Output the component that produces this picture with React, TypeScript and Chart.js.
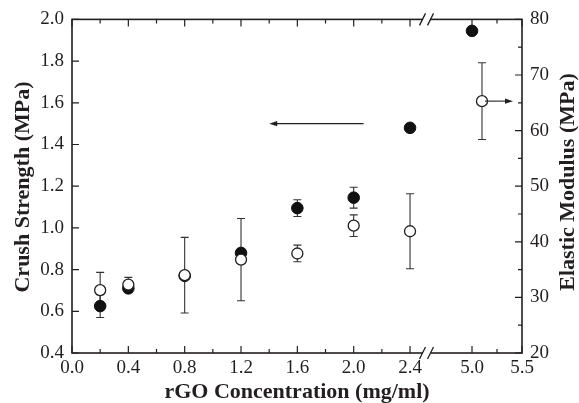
import React, { useEffect, useRef } from 'react';
import { Chart, registerables } from 'chart.js';

Chart.register(...registerables);

// ---- data ----
const crushX = [0.2, 0.4, 0.8, 1.2, 1.6, 2.0, 2.4, 5.0];
const crushStrength = [0.625, 0.71, 0.77, 0.88, 1.095, 1.145, 1.48, 1.945];
const crushErr = [0.055, 0.02, 0.0, 0.0, 0.04, 0.05, 0, 0];

const modulusX = [0.2, 0.4, 0.8, 1.2, 1.6, 2.0, 2.4, 5.1];
const elasticModulus = [31.3, 32.3, 34.0, 36.8, 37.9, 42.9, 41.9, 65.3];
const modulusErr = [3.2, 1.3, 6.8, 7.4, 1.5, 1.95, 6.75, 6.9];

const xTickValues = [0, 0.4, 0.8, 1.2, 1.6, 2.0, 2.4, 5.0, 5.5];
const xTickLabels = ['0.0', '0.4', '0.8', '1.2', '1.6', '2.0', '2.4', '5.0', '5.5'];
const xMinorTicks = [0.2, 0.6, 1.0, 1.4, 1.8, 2.2, 5.25];
const modulusMinorTicks = [25, 35, 45, 55, 65, 75];

// arrows pointing at each series' axis (data coordinates)
const crushArrow = { from: [2.07, 1.5], to: [1.4, 1.5] };
const modulusArrow = { from: [5.13, 65.3], to: [5.41, 65.3] };

// ---- broken x axis mapping ----
const BREAK_LO = 2.4;
const BREAK_HI = 5.0;
const HI_START = 2.84;
const HI_SCALE = 0.71;
const BREAK_POS = 2.517;
const toPos = (x: number) => (x <= BREAK_LO ? x : HI_START + (x - BREAK_HI) * HI_SCALE);

const INK = '#231f20';
const SERIF = '"Liberation Serif", "Times New Roman", serif';

const decorPlugin = {
  id: 'decor',
  beforeDatasetsDraw(chart: any) {
    const { ctx, chartArea: a, scales } = chart;
    const xs = scales.x, ys = scales.y, y1 = scales.y1;
    ctx.save();
    // error bars
    chart.data.datasets.forEach((ds: any, di: number) => {
      const meta = chart.getDatasetMeta(di);
      const sc = scales[ds.yAxisID];
      ds.errors.forEach((e: number, i: number) => {
        if (!e) return;
        const pt = meta.data[i];
        const v = ds.data[i].y;
        const yt = sc.getPixelForValue(v + e);
        const yb = sc.getPixelForValue(v - e);
        ctx.strokeStyle = '#333';
        ctx.lineWidth = 1.1;
        ctx.beginPath();
        ctx.moveTo(pt.x, yt); ctx.lineTo(pt.x, yb);
        ctx.moveTo(pt.x - 4, yt); ctx.lineTo(pt.x + 4, yt);
        ctx.moveTo(pt.x - 4, yb); ctx.lineTo(pt.x + 4, yb);
        ctx.stroke();
      });
    });
    // frame
    ctx.strokeStyle = INK;
    ctx.lineWidth = 1.6;
    ctx.strokeRect(a.left, a.top, a.right - a.left, a.bottom - a.top);
    ctx.lineWidth = 1.2;
    ctx.beginPath();
    // x ticks (bottom and top, inward)
    xTickValues.forEach((v) => {
      const px = xs.getPixelForValue(toPos(v));
      ctx.moveTo(px, a.bottom); ctx.lineTo(px, a.bottom - 7);
      ctx.moveTo(px, a.top); ctx.lineTo(px, a.top + 7);
    });
    xMinorTicks.forEach((v) => {
      const px = xs.getPixelForValue(toPos(v));
      ctx.moveTo(px, a.bottom); ctx.lineTo(px, a.bottom - 4);
      ctx.moveTo(px, a.top); ctx.lineTo(px, a.top + 4);
    });
    ys.ticks.forEach((t: any) => {
      const py = ys.getPixelForValue(t.value);
      ctx.moveTo(a.left, py); ctx.lineTo(a.left + 7, py);
    });
    y1.ticks.forEach((t: any) => {
      const py = y1.getPixelForValue(t.value);
      ctx.moveTo(a.right, py); ctx.lineTo(a.right - 7, py);
    });
    modulusMinorTicks.forEach((v) => {
      const py = y1.getPixelForValue(v);
      ctx.moveTo(a.right, py); ctx.lineTo(a.right - 4, py);
    });
    ctx.stroke();
    // axis break marks
    const bx = xs.getPixelForValue(BREAK_POS);
    [a.top, a.bottom].forEach((yy: number) => {
      ctx.fillStyle = '#fff';
      ctx.fillRect(bx - 4, yy - 2, 8, 4);
      ctx.strokeStyle = INK;
      ctx.lineWidth = 1.3;
      ctx.beginPath();
      [-4, 4].forEach((d) => {
        ctx.moveTo(bx + d - 3, yy + 6);
        ctx.lineTo(bx + d + 3, yy - 6);
      });
      ctx.stroke();
    });
    ctx.restore();
  },
  afterDraw(chart: any) {
    const { ctx, chartArea: a, scales } = chart;
    const xs = scales.x;
    ctx.save();
    const drawArrow = (arr: any, sc: any) => {
      const x0 = xs.getPixelForValue(toPos(arr.from[0]));
      const x1 = xs.getPixelForValue(toPos(arr.to[0]));
      const y = sc.getPixelForValue(arr.from[1]);
      const dir = Math.sign(x1 - x0);
      ctx.strokeStyle = INK;
      ctx.fillStyle = INK;
      ctx.lineWidth = 1.1;
      ctx.beginPath();
      ctx.moveTo(x0, y); ctx.lineTo(x1 - dir * 6, y);
      ctx.stroke();
      ctx.beginPath();
      ctx.moveTo(x1, y);
      ctx.lineTo(x1 - dir * 8, y - 2.6);
      ctx.lineTo(x1 - dir * 8, y + 2.6);
      ctx.closePath();
      ctx.fill();
    };
    drawArrow(crushArrow, scales.y);
    drawArrow(modulusArrow, scales.y1);
    // axis titles
    ctx.fillStyle = INK;
    ctx.font = `bold 22px ${SERIF}`;
    ctx.textAlign = 'center';
    ctx.textBaseline = 'middle';
    ctx.save();
    ctx.translate(23, 187);
    ctx.rotate(-Math.PI / 2);
    ctx.fillText('Crush Strength (MPa)', 0, 0);
    ctx.restore();
    ctx.save();
    ctx.translate(568, 182);
    ctx.rotate(-Math.PI / 2);
    ctx.fillText('Elastic Modulus (MPa)', 0, 0);
    ctx.restore();
    ctx.fillText('rGO Concentration (mg/ml)', (a.left + a.right) / 2, 392);
    ctx.restore();
  },
};

export default function App() {
  const ref = useRef<HTMLCanvasElement>(null);
  useEffect(() => {
    if (!ref.current) return;
    const tickFont = { family: SERIF, size: 19 };
    const chart = new Chart(ref.current, {
      type: 'scatter',
      data: {
        datasets: [
          {
            label: 'Elastic Modulus',
            data: modulusX.map((x, i) => ({ x: toPos(x), y: elasticModulus[i] })),
            yAxisID: 'y1',
            pointRadius: 5.5,
            pointBackgroundColor: '#fff',
            pointBorderColor: INK,
            pointBorderWidth: 1.3,
            errors: modulusErr,
          } as any,
          {
            label: 'Crush Strength',
            data: crushX.map((x, i) => ({ x: toPos(x), y: crushStrength[i] })),
            yAxisID: 'y',
            pointRadius: 5.8,
            pointBackgroundColor: '#111',
            pointBorderColor: '#111',
            pointBorderWidth: 1,
            errors: crushErr,
          } as any,
        ],
      },
      options: {
        animation: false,
        responsive: false,
        layout: { padding: { top: 19, left: 0, right: 0, bottom: 0 } },
        plugins: { legend: { display: false }, tooltip: { enabled: false } },
        scales: {
          x: {
            type: 'linear',
            min: 0,
            max: toPos(5.5),
            afterBuildTicks: (scale: any) => {
              scale.ticks = xTickValues.map((v) => ({ value: toPos(v) }));
            },
            afterFit: (scale: any) => { scale.height = 50; },
            grid: { display: false, drawTicks: false },
            border: { display: false },
            ticks: {
              autoSkip: false,
              maxRotation: 0,
              padding: 4,
              color: INK,
              font: tickFont,
              callback: (value: any) => {
                const i = xTickValues.findIndex((v) => Math.abs(toPos(v) - value) < 1e-6);
                return i >= 0 ? xTickLabels[i] : '';
              },
            },
          },
          y: {
            type: 'linear',
            position: 'left',
            min: 0.4,
            max: 2.0,
            afterFit: (scale: any) => { scale.width = 72; },
            grid: { display: false, drawTicks: false },
            border: { display: false },
            ticks: {
              stepSize: 0.2,
              padding: 8,
              color: INK,
              font: tickFont,
              callback: (v: any) => Number(v).toFixed(1),
            },
          },
          y1: {
            type: 'linear',
            position: 'right',
            min: 20,
            max: 80,
            afterFit: (scale: any) => { scale.width = 57; },
            grid: { display: false, drawTicks: false },
            border: { display: false },
            ticks: {
              stepSize: 10,
              padding: 8,
              color: INK,
              font: tickFont,
            },
          },
        },
      },
      plugins: [decorPlugin],
    });
    return () => chart.destroy();
  }, []);
  return (
    <div style={{ position: 'absolute', left: 0, top: 0, width: 579, height: 403, background: '#fff' }}>
      <canvas ref={ref} width={579} height={403} style={{ display: 'block' }} />
    </div>
  );
}
